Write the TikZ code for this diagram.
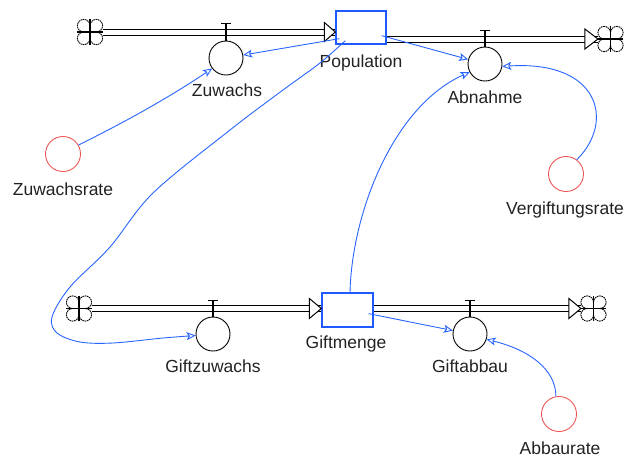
\documentclass[tikz,border=0pt]{standalone}
\usepackage{fontspec}
\setmainfont{Liberation Sans}
\usetikzlibrary{arrows.meta,calc}
\definecolor{sdblue}{RGB}{40,100,255}
\definecolor{sdbox}{RGB}{30,90,255}
\definecolor{sdred}{RGB}{238,85,85}
\definecolor{sdtext}{RGB}{34,34,34}
\tikzset{
  clouddash/.style={draw=black, line width=0.9pt, dash pattern=on 1.6pt off 0.7pt},
  sdcloud/.pic={
    \draw[clouddash] (0,6.3) arc[start angle=180,end angle=-90,radius=6.3];
    \draw[clouddash] (0,6.3) arc[start angle=0,end angle=270,radius=6.3];
    \draw[clouddash] (0,-6.3) arc[start angle=0,end angle=-270,radius=6.3];
    \draw[clouddash] (0,-6.3) arc[start angle=180,end angle=450,radius=6.3];
    \draw[line width=1.6pt] (0,-12.6) -- (0,12.6) (-12.6,0) -- (12.6,0);
    \node[inner sep=0pt, outer sep=0pt, minimum width=25.2pt, minimum height=25.2pt] (-c) {};
  }
}
\begin{document}
\begin{tikzpicture}[x=1pt,y=1pt,
  conn/.style={draw=sdblue, line width=0.9pt, -{Stealth[open, length=9pt, width=8pt, inset=2pt]}},
  stockbox/.style={draw=sdbox, line width=1.3pt, rectangle, inner sep=0pt},
  valvec/.style={circle, draw=black, line width=0.9pt, minimum size=34pt, inner sep=0pt},
  auxc/.style={circle, draw=sdred, line width=0.9pt, minimum size=35pt, inner sep=0pt},
  lbl/.style={anchor=base, text=sdtext, font=\fontsize{17.5}{20}\selectfont, inner sep=0pt},
  pipe/.style={draw=black, line width=1pt, double=white, double distance=5pt},
  pipetip/.style={draw=black, line width=1pt, fill=white, line join=miter},
  stem/.style={draw=black, line width=1.2pt},
]
\useasboundingbox (0,0) rectangle (629,-459);

% clouds
\pic (cl1) at (90,-32) {sdcloud};
\pic (cr1) at (610.5,-39) {sdcloud};
\pic (cl2) at (79,-308.5) {sdcloud};
\pic (cr2) at (593.5,-308.5) {sdcloud};

% stocks
\node[stockbox, minimum width=50pt, minimum height=33pt] (pop) at (361,-27.5) {};
\node[stockbox, minimum width=51pt, minimum height=34pt] (gm) at (347.5,-310) {};

% valves
\node[valvec] (zuw) at (226,-58) {};
\node[valvec] (abn) at (485,-64) {};
\node[valvec] (gz) at (213,-334) {};
\node[valvec] (gab) at (470,-334) {};

% auxiliaries
\node[auxc] (zr) at (63,-154) {};
\node[auxc] (vr) at (566,-174) {};
\node[auxc] (ar) at (559,-414) {};

% pipes
\coordinate (t1) at (cl1-c.east -| pop.west);
\draw[pipe] (cl1-c.east) -- (t1);
\coordinate (t2) at (cr1-c.west);
\draw[pipe] (pop.east |- cr1-c) -- (t2);
\coordinate (t3) at (cl2-c.east -| gm.west);
\draw[pipe] (cl2-c.east) -- (t3);
\coordinate (t4) at (cr2-c.west);
\draw[pipe] (gm.east |- cr2-c) -- (t4);

\draw[pipetip] (t1) -- ++(-11,9.5) -- ++(0,-19) -- cycle;
\draw[pipetip] (t2) -- ++(-13,10) -- ++(0,-20) -- cycle;
\draw[pipetip] (t3) -- ++(-12,10) -- ++(0,-20) -- cycle;
\draw[pipetip] (t4) -- ++(-12,10) -- ++(0,-20) -- cycle;

% valve stems
\draw[stem] (zuw.north) -- ++(0,17) ++(-5,0) -- ++(10,0);
\draw[stem] (abn.north) -- ++(0,16) ++(-5,0) -- ++(10,0);
\draw[stem] (gz.north) -- ++(0,16) ++(-5,0) -- ++(10,0);
\draw[stem] (gab.north) -- ++(0,16) ++(-5,0) -- ++(10,0);

% labels
\node[lbl] (popL) at (361,-67) {Population};
\node[lbl] (zuwL) at (227,-96) {Zuwachs};
\node[lbl] (abnL) at (485,-103) {Abnahme};
\node[lbl] (zrL) at (63,-195) {Zuwachsrate};
\node[lbl] (vrL) at (565,-214) {Vergiftungsrate};
\node[lbl] (gzL) at (213,-372) {Giftzuwachs};
\node[lbl] (gmL) at (346,-348) {Giftmenge};
\node[lbl] (gabL) at (470,-372) {Giftabbau};
\node[lbl] (arL) at (560,-454) {Abbaurate};

% connectors
\coordinate (popA) at ($(pop.south west)+(4,6)$);
\draw[conn] (popA) -- (zuw);
\draw[conn] (zr.30) .. controls (125,-122) and (170,-97) .. (zuw.217);
\coordinate (popB) at ($(pop.south east)+(-5,9)$);
\draw[conn] (popB) -- (abn);
\coordinate (gmA) at ($(gm.north)+(2.5,0)$);
\draw[conn] (gmA) .. controls (352,-210) and (395,-105) .. (abn.208);
\draw[conn] (vr.53) .. controls (615,-122) and (600,-60) .. (abn.-8);
\coordinate (popC) at ($(pop.south west)+(10,4)$);
\draw[conn] plot[smooth, tension=0.55] coordinates {(popC) (320,-63) (283,-90) (230,-130) (153,-193) (110,-247) (70,-287) (52,-317) (57,-333) (80,-342) (113,-343) (163,-338) (gz.185)};
\coordinate (gmB) at ($(gm.south east)+(-5,14)$);
\draw[conn] (gmB) -- (gab);
\draw[conn] (ar.100) .. controls (556,-370) and (530,-350) .. (gab.-18);
\end{tikzpicture}
\end{document}
